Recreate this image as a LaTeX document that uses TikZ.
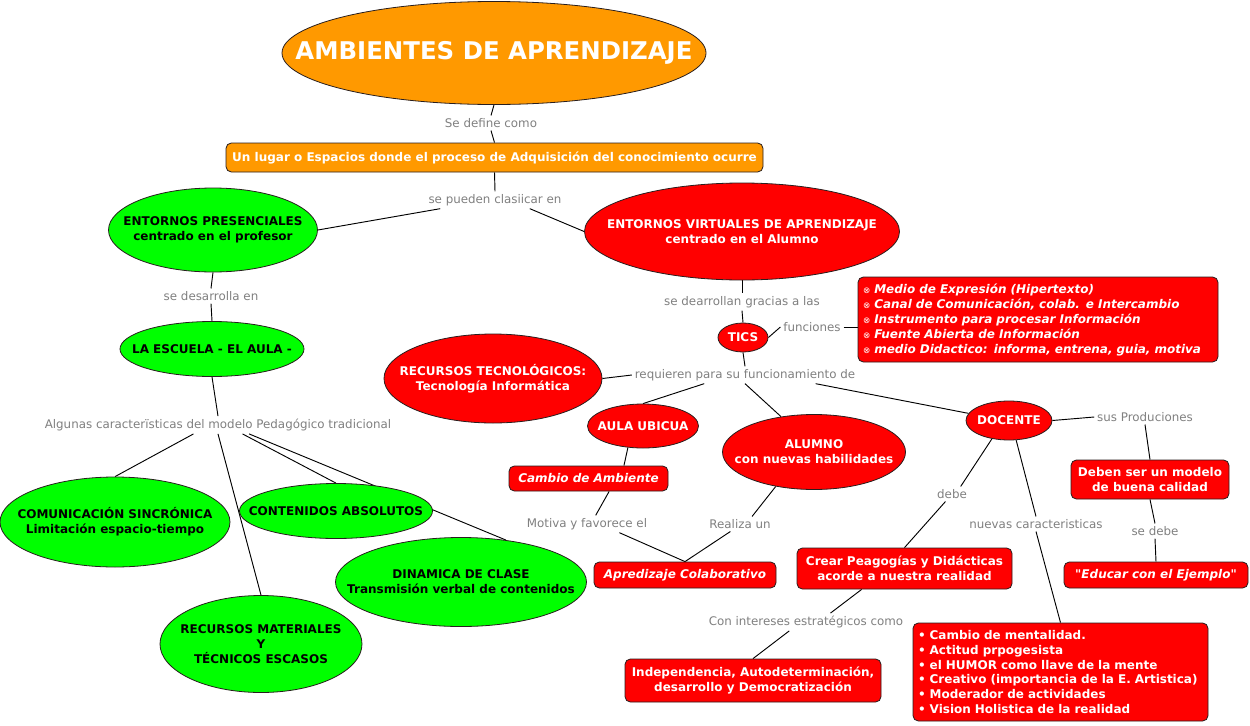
\documentclass[tikz,border=0pt]{standalone}
\usepackage{fontspec}
\setmainfont{DejaVu Sans}
\newfontfamily\mapsymfont{DejaVu Sans}
\newfontfamily\mapplainfont{DejaVu Sans}[Ligatures=TeXOff]
\usetikzlibrary{shapes.geometric, backgrounds}
\definecolor{mapgreen}{RGB}{0,255,0}
\definecolor{mapred}{RGB}{255,0,0}
\definecolor{maporange}{RGB}{255,153,0}
\definecolor{linkgray}{RGB}{128,128,128}
\definecolor{edgedark}{RGB}{40,30,30}
\newcommand{\mapTitleFont}{\fontsize{18.3}{22}\selectfont\bfseries}
\newcommand{\mapNodeFont}{\fontsize{9}{11.25}\selectfont\bfseries}
\newcommand{\mapWordFont}{\fontsize{8.9}{10}\selectfont}
\newcommand{\funmark}{{\mapsymfont\mdseries\upshape\fontsize{6.5}{6}\selectfont ⊗}}
\tikzset{px/.style 2 args={minimum width={#1*0.75pt}, minimum height={#2*0.75pt}}}

\begin{document}
\begin{tikzpicture}[x=0.75pt, y=-0.75pt,
    concept/.style={ellipse, draw=edgedark, line width=0.6pt, inner sep=-40pt, align=center, font=\mapNodeFont},
    greenconcept/.style={concept, fill=mapgreen, text=black},
    redconcept/.style={concept, fill=mapred, text=white},
    notebox/.style={rectangle, rounded corners=4pt, draw=edgedark, line width=0.6pt, fill=mapred, text=white, inner sep=0pt, align=center, font=\mapNodeFont},
    slanted/.style={font=\mapNodeFont\itshape},
    linkword/.style={text=linkgray, font=\mapWordFont, inner sep=2pt},
    link/.style={line width=0.7pt, black}
]
    \useasboundingbox (0,0) rectangle (1250,725);

    % Title and definition
    \node[concept, fill=maporange, text=white, font=\mapTitleFont, px={424}{103}] (ambientes) at (494,53) {AMBIENTES DE APRENDIZAJE};
    \node[linkword] (sdc) at (491,123) {Se define como};
    \node[notebox, fill=maporange, px={537}{29}] (lugar) at (494.5,157.5)
        {Un lugar o Espacios donde el proceso de Adquisición del conocimiento ocurre};
    \node[linkword] (spc) at (495,200) {se pueden clasiicar en};

    % Presencial side
    \node[greenconcept, px={209}{84}] (presencial) at (213,230) {ENTORNOS PRESENCIALES\\centrado en el profesor};
    \node[linkword] (sde) at (211,296) {se desarrolla en};
    \node[greenconcept, px={184}{55}] (escuela) at (212,349) {LA ESCUELA - EL AULA -};
    \node[linkword] (alg) at (218,425) {Algunas caracterïsticas del modelo Pedagógico tradicional};
    \node[greenconcept, px={230}{90}] (sincro) at (115,522) {COMUNICACIÓN SINCRÓNICA\\Limitación espacio-tiempo};
    \node[greenconcept, px={193}{55}] (contenidos) at (336,511) {CONTENIDOS ABSOLUTOS};
    \node[greenconcept, px={251}{89}] (dinamica) at (461,582) {DINAMICA DE CLASE\\Transmisión verbal de contenidos};
    \node[greenconcept, px={202}{97}] (materiales) at (261,644) {RECURSOS MATERIALES\\Y\\ TÉCNICOS ESCASOS};

    % Virtual side
    \node[redconcept, px={315}{97}] (virtual) at (742,231.5) {ENTORNOS VIRTUALES DE APRENDIZAJE\\centrado en el Alumno};
    \node[linkword] (sdg) at (742,302) {se dearrollan gracias a las};
    \node[redconcept, px={50}{29}] (tics) at (743,337.5) {TICS};
    \node[linkword] (fun) at (812,327) {funciones};
    \node[notebox, slanted, px={360}{85}, text width={350*0.75pt}, align=left] (funbox) at (1038,319.5)
        {\funmark\ Medio de Expresión (Hipertexto)\\
         \funmark\ Canal de Comunicación, colab. e Intercambio\\
         \funmark\ Instrumento para procesar Información\\
         \funmark\ Fuente Abierta de Información\\
         \funmark\ medio Didactico: informa, entrena, guia, motiva};
    \node[linkword] (req) at (745,375) {requieren para su funcionamiento de};
    \node[redconcept, px={218}{89}] (rectec) at (493,378.5) {RECURSOS TECNOLÓGICOS:\\Tecnología Informática};
    \node[redconcept, px={111}{44}] (ubicua) at (643,426) {AULA UBICUA};
    \node[redconcept, px={183}{75}] (alumno) at (814,452) {ALUMNO\\con nuevas habilidades};
    \node[redconcept, px={86}{39}] (docente) at (1009,420.5) {DOCENTE};

    % Alumno / aula
    \node[notebox, slanted, px={159}{25}] (cambio) at (588.5,478.5) {Cambio de Ambiente};
    \node[linkword] (mot) at (587,524) {Motiva y favorece el};
    \node[linkword] (rea) at (740,524) {Realiza un};
    \node[notebox, slanted, px={182}{26}] (colab) at (685,575) {Apredizaje Colaborativo};

    % Docente
    \node[linkword] (deb) at (952,494) {debe};
    \node[notebox, px={215}{41}] (crear) at (904.5,568.5) {Crear Peagogías y Didácticas\\acorde a nuestra realidad};
    \node[linkword] (cie) at (806,622) {Con intereses estratégicos como};
    \node[notebox, px={256}{43}] (indep) at (753,680.5) {Independencia, Autodeterminación,\\desarrollo y Democratización};
    \node[linkword] (nuc) at (1036,524) {nuevas caracteristicas};
    \node[notebox, px={295}{98}, text width={285*0.75pt}, align=left, font=\fontsize{9}{11}\selectfont\bfseries] (rasgos) at (1060.5,672)
        {• Cambio de mentalidad.\\
         • Actitud prpogesista\\
         • el HUMOR como llave de la mente\\
         • Creativo (importancia de la E. Artistica)\\
         • Moderador de actividades\\
         • Vision Holistica de la realidad};
    \node[linkword] (sus) at (1145,417) {sus Produciones};
    \node[notebox, px={158}{39}] (modelo) at (1150,479.5) {Deben ser un modelo\\de buena calidad};
    \node[linkword] (sdb) at (1155,531) {se debe};
    \node[notebox, font=\mapplainfont\mapNodeFont\itshape, px={184}{26}] (ejemplo) at (1156,575) {"Educar con el Ejemplo"};

    % Connectors
    \begin{scope}[on background layer]
        \fill[white] (0,0) rectangle (1250,725);
        \draw[link] (ambientes.south) -- (sdc.north);
        \draw[link] (sdc.south) -- (lugar.north);
        \draw[link] (lugar.south) -- (spc.north);
        \draw[link] (spc.-171) -- (presencial.east);
        \draw[link] (spc.-14) -- (virtual.west);
        \draw[link] (presencial.south) -- (sde.north);
        \draw[link] (sde.south) -- (escuela.north);
        \draw[link] (escuela.south) -- (alg.north);
        \draw[link] (alg.-160) -- (sincro.north);
        \draw[link] (alg.south) -- (materiales.north);
        \draw[link] (alg.-20) -- (contenidos.north);
        \draw[link] (alg.-16) -- (dinamica.43);
        \draw[link] (virtual.south) -- (sdg.north);
        \draw[link] (sdg.south) -- (tics.north);
        \draw[link] (tics.east) -- (fun.west);
        \draw[link] (fun.east) -- (fun.east -| funbox.west);
        \draw[link] (tics.south) -- (req.north);
        \draw[link] (req.west) -- (rectec.east);
        \draw[link] (req.-168) -- (ubicua.north);
        \draw[link] (req.south) -- (alumno.133);
        \draw[link] (req.-7) -- (docente.170);
        \draw[link] (ubicua.-125) -- (cambio.20);
        \draw[link] (cambio.-32) -- (mot.45);
        \draw[link] (mot.-15) -- (colab.north);
        \draw[link] (alumno.-138) -- (rea.32);
        \draw[link] (rea.-142) -- (colab.north);
        \draw[link] (docente.-133) -- (deb.41);
        \draw[link] (deb.-131) -- (crear.north);
        \draw[link] (crear.-154) -- (cie.20);
        \draw[link] (cie.-152) -- (indep.north);
        \draw[link] (docente.-70) -- (nuc.north);
        \draw[link] (nuc.south) -- (rasgos.north);
        \draw[link] (docente.east) -- (sus.west);
        \draw[link] (sus.south) -- (modelo.north);
        \draw[link] (modelo.south) -- (sdb.north);
        \draw[link] (sdb.south) -- (ejemplo.north);
    \end{scope}
\end{tikzpicture}
\end{document}
